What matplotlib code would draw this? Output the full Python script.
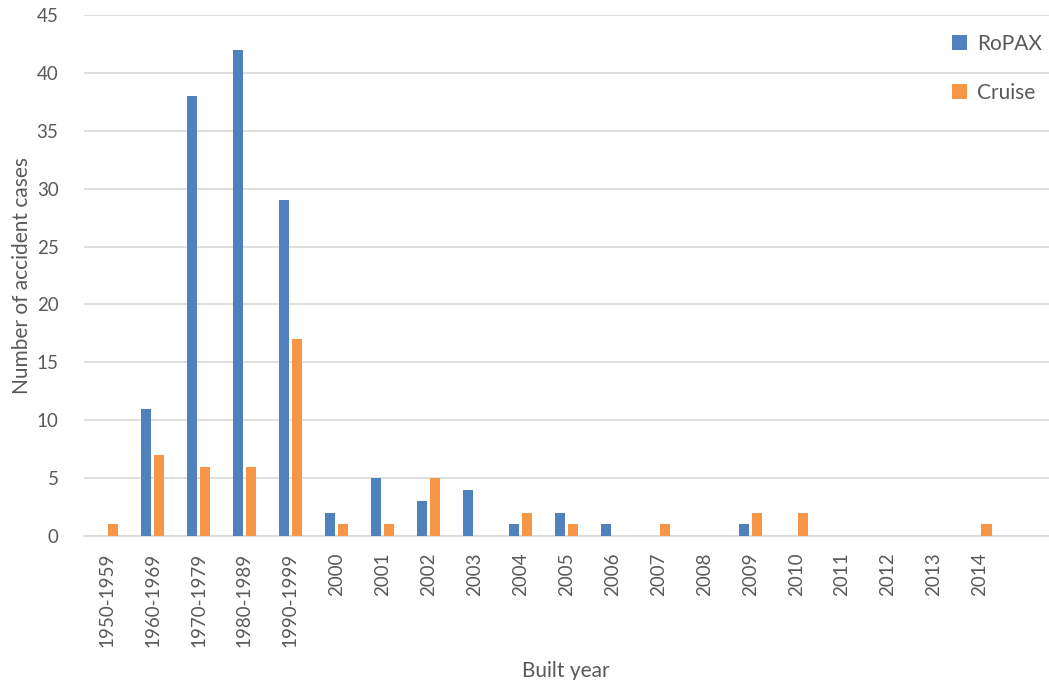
import matplotlib

matplotlib.use("Agg")
import matplotlib.pyplot as plt
import numpy as np

# Accident cases by built year
years = ["1950-1959", "1960-1969", "1970-1979", "1980-1989", "1990-1999",
         "2000", "2001", "2002", "2003", "2004", "2005", "2006", "2007",
         "2008", "2009", "2010", "2011", "2012", "2013", "2014", ""]
ropax = [0, 11, 38, 42, 29, 2, 5, 3, 4, 1, 2, 1, 0, 0, 1, 0, 0, 0, 0, 0, 0]
cruise = [1, 7, 6, 6, 17, 1, 1, 5, 0, 2, 1, 0, 1, 0, 2, 2, 0, 0, 0, 1, 0]

plt.rcParams["font.family"] = ["Lato", "DejaVu Sans"]
text_color = "#595959"
grid_color = "#d9d9d9"

fig = plt.figure(figsize=(10.49, 6.8), dpi=100)
ax = fig.add_axes([0.0796, 0.2118, 0.9204, 0.766])

x = np.arange(len(years))
w = 0.22
ax.bar(x - 0.14, ropax, width=w, color="#4F81BD", label="RoPAX", zorder=3)
ax.bar(x + 0.14, cruise, width=w, color="#F79646", label="Cruise", zorder=3)

ax.set_xlim(-0.5, len(years) - 0.5)
ax.set_ylim(0, 45)
ax.set_yticks(range(0, 46, 5))
ax.set_xticks(x)
ax.set_xticklabels(years, rotation=90)

ax.yaxis.grid(True, color=grid_color, linewidth=1.2, zorder=0)
for side in ["top", "right", "left"]:
    ax.spines[side].set_visible(False)
ax.spines["bottom"].set_color(grid_color)
ax.spines["bottom"].set_linewidth(1.2)
ax.tick_params(axis="both", length=0, labelsize=13.5, colors=text_color)
ax.tick_params(axis="x", pad=12)
ax.tick_params(axis="y", pad=18)

ax.set_xlabel("Built year", fontsize=15, color=text_color, labelpad=10)
ax.set_ylabel("Number of accident cases", fontsize=15, color=text_color, labelpad=3)

leg = ax.legend(loc="upper right", bbox_to_anchor=(1.012, 1.0), frameon=False,
                fontsize=15, handlelength=0.7, handleheight=0.7,
                labelspacing=1.4, handletextpad=0.5)
for t in leg.get_texts():
    t.set_color(text_color)

fig.savefig("out.png", dpi=100)
plt.close(fig)
